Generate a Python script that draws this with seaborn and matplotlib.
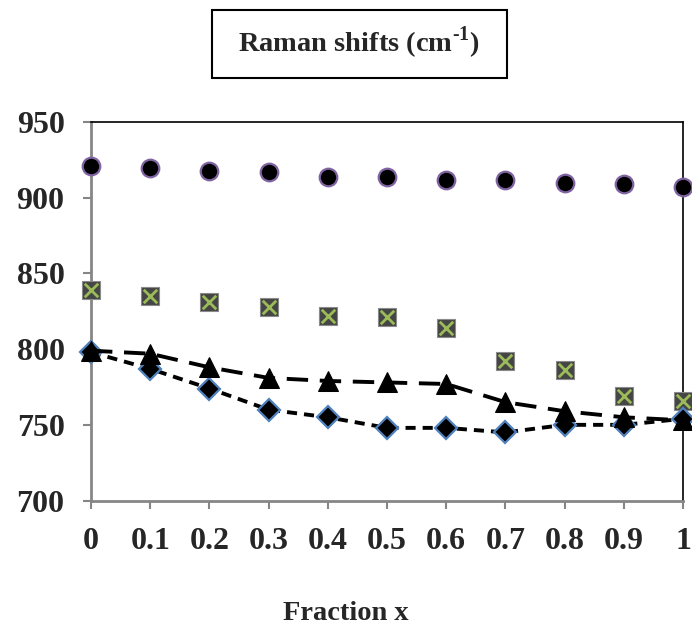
import matplotlib
matplotlib.use('Agg')
import matplotlib.pyplot as plt
import matplotlib.patches as patches
import seaborn as sns
import pandas as pd

# Data
fraction = [0, 0.1, 0.2, 0.3, 0.4, 0.5, 0.6, 0.7, 0.8, 0.9, 1.0]
circles = [921, 920, 918, 917, 914, 914, 912, 912, 910, 909, 907]
squares = [839, 835, 831, 828, 822, 821, 814, 792, 786, 769, 766]
triangles = [799, 797, 788, 781, 779, 778, 777, 765, 759, 755, 753]
diamonds = [798, 787, 774, 760, 755, 748, 748, 745, 750, 750, 754]

y_ticks = [700, 750, 800, 850, 900, 950]
x_ticks = [0, 0.1, 0.2, 0.3, 0.4, 0.5, 0.6, 0.7, 0.8, 0.9, 1.0]
x_tick_labels = ['0', '0.1', '0.2', '0.3', '0.4', '0.5', '0.6', '0.7', '0.8', '0.9', '1']

df = pd.DataFrame({'x': fraction, 'circ': circles, 'sq': squares,
                   'tri': triangles, 'dia': diamonds})

sns.set_style('white')
plt.rcParams['font.family'] = ['Liberation Serif', 'DejaVu Serif']
plt.rcParams['font.weight'] = 'bold'
plt.rcParams['mathtext.fontset'] = 'custom'
plt.rcParams['mathtext.rm'] = 'Liberation Serif'
plt.rcParams['mathtext.bf'] = 'Liberation Serif:bold'

fig = plt.figure(figsize=(6.92, 6.36), dpi=100)
ax = fig.add_axes([0.1315, 0.213, 0.8555, 0.595])

# Circles
sns.scatterplot(data=df, x='x', y='circ', ax=ax, marker='o', s=160,
                color='black', edgecolor='#8064A2', linewidth=1.6,
                clip_on=False, zorder=3)

# Squares with a green cross
sns.scatterplot(data=df, x='x', y='sq', ax=ax, marker='s', s=150,
                color='#454545', edgecolor='#8a8a8a', linewidth=0.8,
                clip_on=False, zorder=3)
sns.scatterplot(data=df, x='x', y='sq', ax=ax, marker='x', s=95,
                color='#9BBB59', linewidth=2,
                clip_on=False, zorder=4)

# Diamonds, dotted line
sns.lineplot(data=df, x='x', y='dia', ax=ax, color='black', linewidth=2.8,
             linestyle=(0, (2.6, 1.8)), marker='D', markersize=11.5,
             markerfacecolor='black', markeredgecolor='#4F81BD',
             markeredgewidth=1.6, clip_on=False, zorder=5)

# Triangles, dashed line
sns.lineplot(data=df, x='x', y='tri', ax=ax, color='black', linewidth=2.8,
             linestyle=(0, (5.5, 3)), marker='^', markersize=14,
             markerfacecolor='black', markeredgecolor='black',
             clip_on=False, zorder=6)

ax.set_xlim(0, 1)
ax.set_ylim(700, 950)
ax.set_yticks(y_ticks)
ax.set_xticks(x_ticks)
ax.set_xticklabels(x_tick_labels)
ax.set_xlabel('')
ax.set_ylabel('')

for side in ['left', 'bottom']:
    ax.spines[side].set_color('#868686')
    ax.spines[side].set_linewidth(2)
for side in ['top', 'right']:
    ax.spines[side].set_color('black')
    ax.spines[side].set_linewidth(1.2)

ax.tick_params(axis='both', direction='out', length=6, width=1.5,
               color='#868686', labelsize=23, bottom=True, left=True)
ax.tick_params(axis='y', pad=13)
ax.tick_params(axis='x', pad=13)
for lbl in ax.get_xticklabels() + ax.get_yticklabels():
    lbl.set_fontweight('bold')

# Title in a box
box = patches.Rectangle((0.306, 0.877), 0.427, 0.107, transform=fig.transFigure,
                        fill=False, edgecolor='black', linewidth=1.5)
fig.patches.append(box)
fig.text(0.518, 0.933, 'Raman shifts (cm$^{\\mathbf{\u20101}}$)',
         ha='center', va='center', fontsize=20.5, fontweight='bold')

fig.text(0.5, 0.036, 'Fraction x', ha='center', va='center',
         fontsize=20.5, fontweight='bold')

fig.savefig('out.png', dpi=100)
